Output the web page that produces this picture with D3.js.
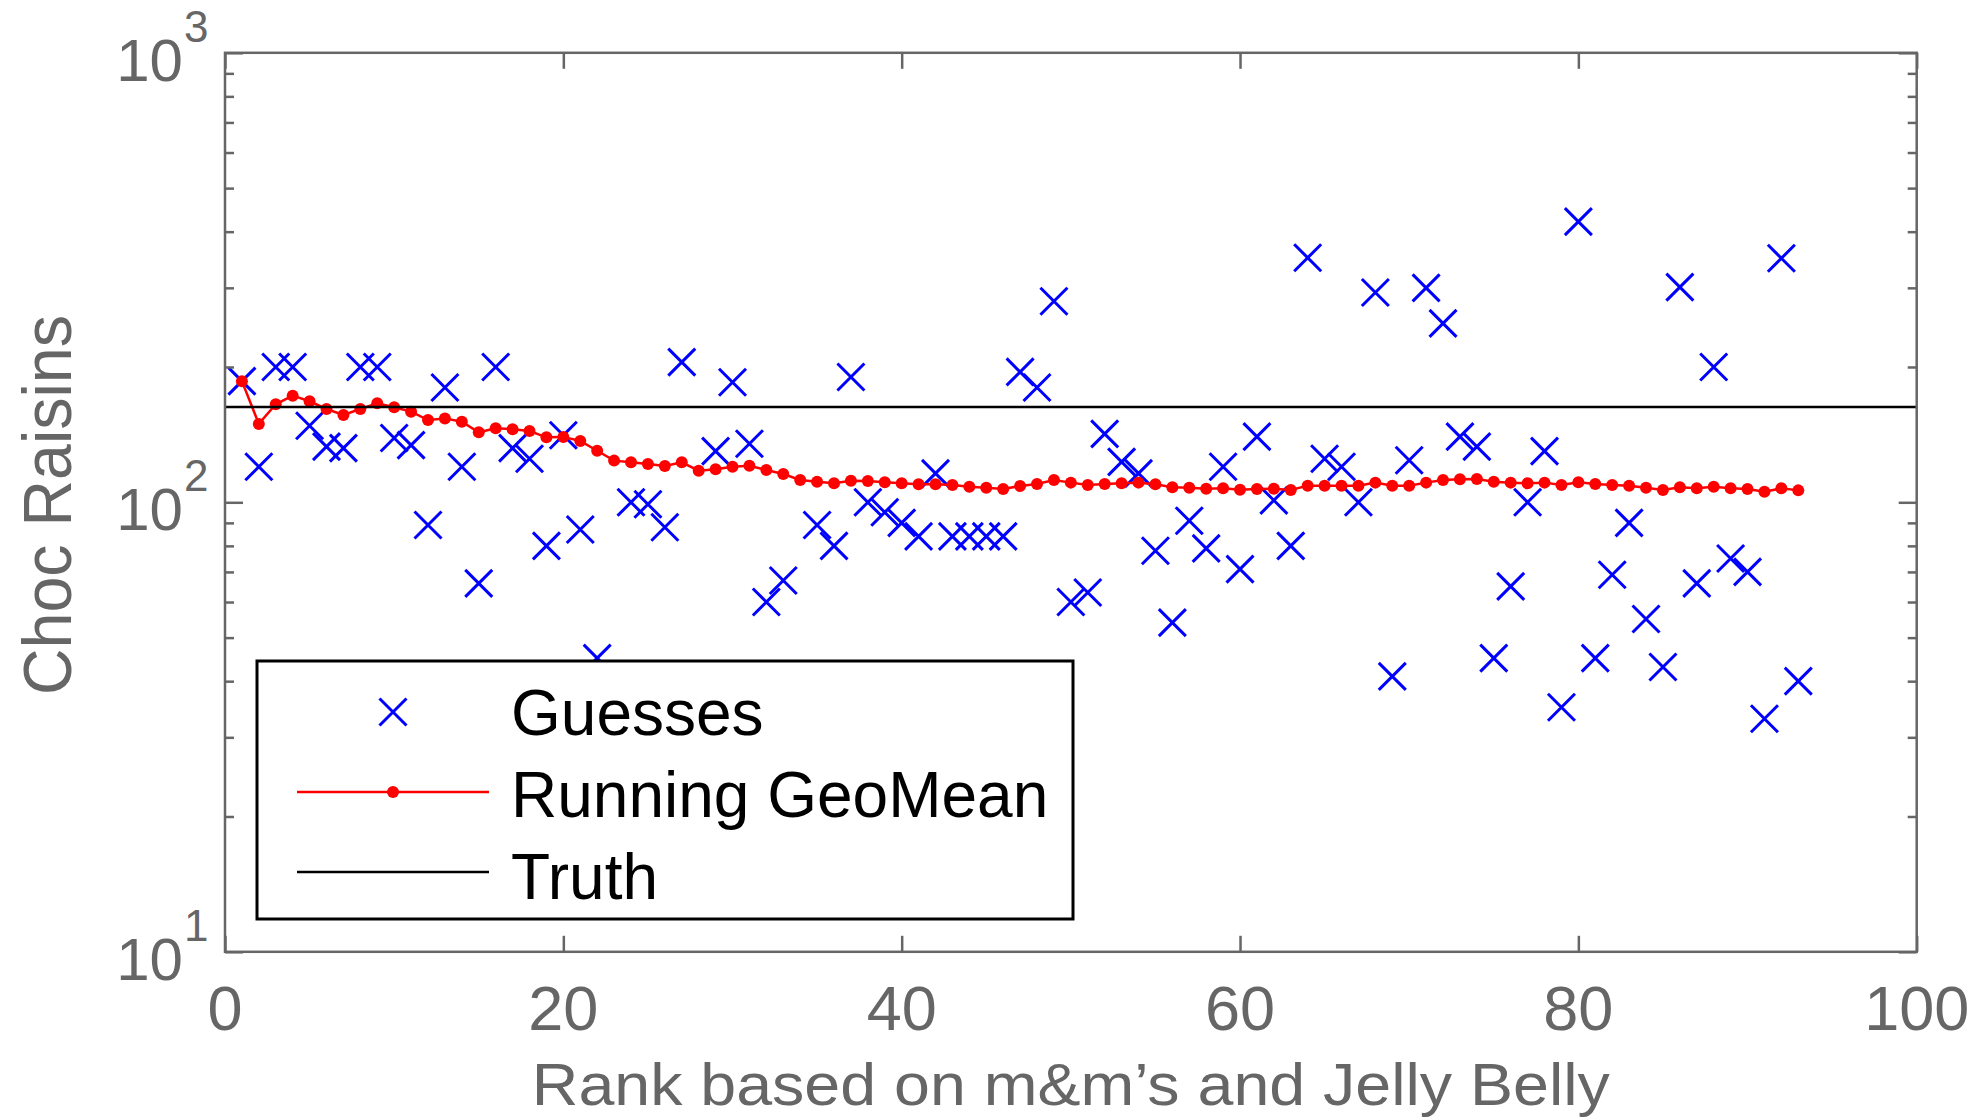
<!DOCTYPE html>
<html>
<head>
<meta charset="utf-8">
<script src="https://cdn.jsdelivr.net/npm/d3@7"></script>
<style>
  body { margin: 0; background: #fff; }
  text { font-family: "Liberation Sans", Arial, sans-serif; }
</style>
</head>
<body>
<div id="chart"></div>
<script>
// data
var guesses = [186,120,200,200,148,133,132,200,200,139,
  134,89,180,120,66,200,132,125,80,141,
  87,45,40,100,99,88,205,37,130,185,
  135,60,67,40,89,80,190,100,95,90,
  84,116,84,84,84,84,195,180,280,60,
  63,142,123,116,78,54,91,79,120,71,
  140,101,80,350,125,120,100,293,41,124,
  300,250,140,133,45,65,100,130,35,421,
  45,69,90,55,43,301,66,200,75,70,
  33,349,40];

var geoMean = [186,149.4,165.2,172.7,167.8,161.3,156.4,161.3,166.0,162.7,
  159.1,152.4,153.7,151.1,143.1,146.1,145.4,144.1,139.5,139.8,
  136.9,130.2,123.8,122.7,121.7,120.4,122.7,117.6,118.4,120.0,
  120.6,118.0,115.6,112.1,111.1,110.2,111.7,111.5,110.8,110.2,
  109.7,109.7,109.3,108.3,107.8,107.1,108.7,109.8,112.1,110.6,
  109.3,109.8,110.2,110.6,109.7,108.0,107.8,107.2,107.5,106.6,
  107.1,107.2,106.5,108.9,108.9,108.9,108.9,110.6,108.9,108.9,
  110.6,112.1,112.5,112.7,111.1,110.6,110.2,110.6,109.3,110.8,
  109.8,109.3,108.9,107.8,106.5,108.0,107.4,108.3,107.4,107.1,
  105.6,107.4,106.3];

var truth = 163;
var xTicks = [0, 20, 40, 60, 80, 100];
var yMajor = [10, 100, 1000];
var yExp = ["1", "2", "3"];
var legendNames = ["Guesses", "Running GeoMean", "Truth"];

var svgWidth = 1986, svgHeight = 1118;
// plot box in pixels
var plotLeft = 225, plotRight = 1916.7, plotTop = 52.8, plotBottom = 951.8;
var axisColor = "#666666";

var svg = d3.select("#chart").append("svg")
  .attr("width", svgWidth)
  .attr("height", svgHeight);

var x = d3.scaleLinear().domain([0, 100]).range([plotLeft, plotRight]);
var y = d3.scaleLog().domain([10, 1000]).range([plotBottom, plotTop]);

// minor ticks on the log axis: 2..9 in each decade
var yMinor = [];
[10, 100].forEach(function(d) {
  for (var k = 2; k <= 9; k++) yMinor.push(d * k);
});

var ranks = guesses.map(function(d, i) { return i + 1; });

// guesses
var xMark = "M-13.5,-13.5L13.5,13.5M-13.5,13.5L13.5,-13.5";
svg.append("g").selectAll("path")
  .data(guesses)
  .enter()
  .append("path")
  .attr("transform", (d, i) => `translate(${x(ranks[i])},${y(d)})`)
  .attr("d", xMark)
  .attr("stroke", "#0000ff")
  .attr("stroke-width", 3)
  .attr("fill", "none");

// running geomean
var line = d3.line()
  .x((d, i) => x(ranks[i]))
  .y(d => y(d));

svg.append("path")
  .datum(geoMean)
  .attr("d", line)
  .attr("fill", "none")
  .attr("stroke", "#ff0000")
  .attr("stroke-width", 2.5);

svg.append("g").selectAll("circle")
  .data(geoMean)
  .enter()
  .append("circle")
  .attr("cx", (d, i) => x(ranks[i]))
  .attr("cy", d => y(d))
  .attr("r", 6)
  .attr("fill", "#ff0000");

// truth
svg.append("line")
  .attr("x1", x(0)).attr("x2", x(100))
  .attr("y1", y(truth)).attr("y2", y(truth))
  .attr("stroke", "#000")
  .attr("stroke-width", 2.5);

// axes (ticks inside, box on all sides)
function styleAxis(g) {
  g.select(".domain").remove();
  g.selectAll(".tick line").attr("stroke", axisColor).attr("stroke-width", 2.5);
  g.selectAll(".tick text").remove();
}

svg.append("g").attr("transform", `translate(0,${plotBottom})`)
  .call(d3.axisBottom(x).tickValues(xTicks).tickSize(-16)).call(styleAxis);
svg.append("g").attr("transform", `translate(0,${plotTop})`)
  .call(d3.axisTop(x).tickValues(xTicks).tickSize(-16)).call(styleAxis);
svg.append("g").attr("transform", `translate(${plotLeft},0)`)
  .call(d3.axisLeft(y).tickValues(yMajor).tickSize(-18)).call(styleAxis);
svg.append("g").attr("transform", `translate(${plotLeft},0)`)
  .call(d3.axisLeft(y).tickValues(yMinor).tickSize(-9)).call(styleAxis);
svg.append("g").attr("transform", `translate(${plotRight},0)`)
  .call(d3.axisRight(y).tickValues(yMajor).tickSize(-18)).call(styleAxis);
svg.append("g").attr("transform", `translate(${plotRight},0)`)
  .call(d3.axisRight(y).tickValues(yMinor).tickSize(-9)).call(styleAxis);

svg.append("rect")
  .attr("x", plotLeft).attr("y", plotTop)
  .attr("width", plotRight - plotLeft).attr("height", plotBottom - plotTop)
  .attr("fill", "none")
  .attr("stroke", axisColor)
  .attr("stroke-width", 2.5);

// tick labels
svg.append("g").selectAll("text")
  .data(xTicks)
  .enter()
  .append("text")
  .attr("x", d => x(d))
  .attr("y", 1030)
  .attr("text-anchor", "middle")
  .attr("font-size", 63)
  .attr("fill", axisColor)
  .text(d => d);

var yLab = svg.append("g").selectAll("g")
  .data(yMajor)
  .enter()
  .append("g");
yLab.append("text")
  .attr("x", 183)
  .attr("y", d => y(d) + 28)
  .attr("text-anchor", "end")
  .attr("font-size", 60)
  .attr("fill", axisColor)
  .text("10");
yLab.append("text")
  .attr("x", 184)
  .attr("y", d => y(d) - 11)
  .attr("font-size", 44)
  .attr("fill", axisColor)
  .text((d, i) => yExp[i]);

// axis titles
svg.append("text")
  .attr("x", (plotLeft + plotRight) / 2)
  .attr("y", 1105)
  .attr("text-anchor", "middle")
  .attr("font-size", 60)
  .attr("fill", axisColor)
  .attr("textLength", 1078)
  .attr("lengthAdjust", "spacingAndGlyphs")
  .text("Rank based on m&m’s and Jelly Belly");

svg.append("text")
  .attr("transform", "translate(71,505) rotate(-90)")
  .attr("text-anchor", "middle")
  .attr("font-size", 68)
  .attr("fill", axisColor)
  .attr("textLength", 380)
  .attr("lengthAdjust", "spacingAndGlyphs")
  .text("Choc Raisins");

// legend
var legend = svg.append("g");
legend.append("rect")
  .attr("x", 257).attr("y", 661)
  .attr("width", 816).attr("height", 258)
  .attr("fill", "#fff")
  .attr("stroke", "#000")
  .attr("stroke-width", 3);

legend.append("path")
  .attr("transform", "translate(393,712)")
  .attr("d", xMark)
  .attr("stroke", "#0000ff")
  .attr("stroke-width", 3)
  .attr("fill", "none");
legend.append("line")
  .attr("x1", 297).attr("x2", 489).attr("y1", 792).attr("y2", 792)
  .attr("stroke", "#ff0000").attr("stroke-width", 2.5);
legend.append("circle")
  .attr("cx", 393).attr("cy", 792).attr("r", 6)
  .attr("fill", "#ff0000");
legend.append("line")
  .attr("x1", 297).attr("x2", 489).attr("y1", 872).attr("y2", 872)
  .attr("stroke", "#000").attr("stroke-width", 2.5);

legend.selectAll(".lt")
  .data(legendNames)
  .enter()
  .append("text")
  .attr("class", "lt")
  .attr("x", 511)
  .attr("y", (d, i) => 735 + i * 82)
  .attr("font-size", 64)
  .attr("fill", "#000")
  .text(d => d);
</script>
</body>
</html>
